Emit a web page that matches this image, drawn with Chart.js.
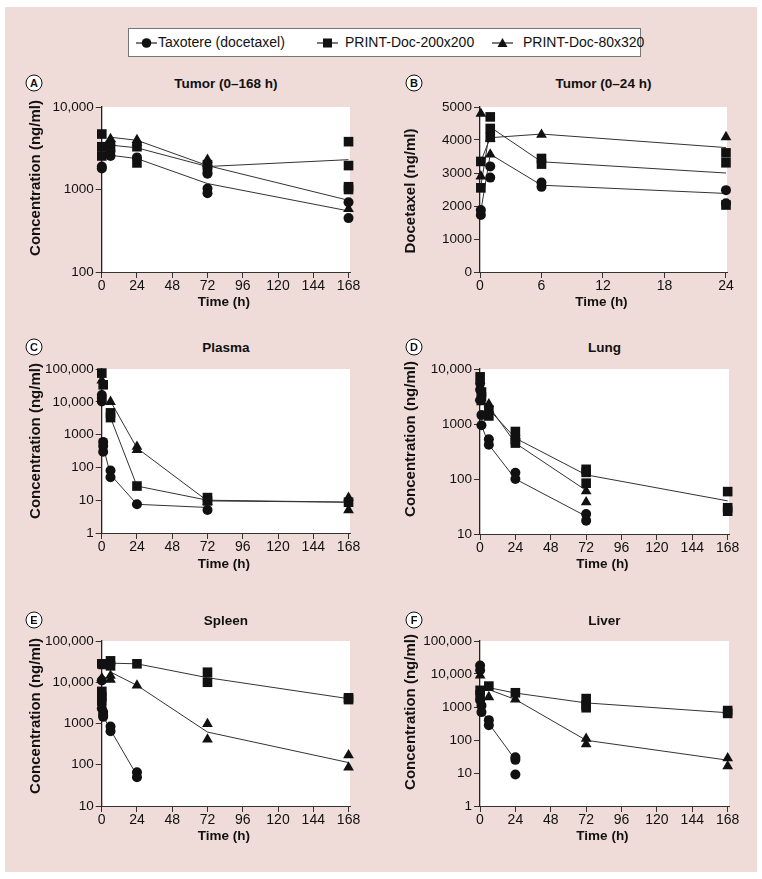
<!DOCTYPE html>
<html>
<head>
<meta charset="utf-8">
<script src="https://cdn.jsdelivr.net/npm/chart.js@4.4.1/dist/chart.umd.min.js"></script>
<style>
  body { margin: 0; background: #fff; width: 762px; height: 879px; position: relative; overflow: hidden;
         font-family: "Liberation Sans", Arial, sans-serif; color: #111; }
  #bg { position: absolute; left: 5px; top: 7px; width: 752px; height: 865px; background: #efdcd9; }
  canvas { position: absolute; }
  .t { position: absolute; font-weight: bold; font-size: 13.5px; white-space: nowrap; transform: translate(-50%, -50%); }
  .yt { font-size: 15px; transform: translate(-50%, -50%) rotate(-90deg); }
  .lab { position: absolute; width: 15px; height: 15px; border: 1.5px solid #111; border-radius: 50%; background: #fff;
         font-size: 11px; font-weight: bold; text-align: center; line-height: 15px; transform: translate(-50%, -50%); }
  #legend { position: absolute; left: 128px; top: 28px; width: 511px; height: 27px; background: #fff; border: 1.5px solid #777; }
  #legend svg, #legend span { position: absolute; }
  #legend span { font-size: 14px; top: 5px; white-space: nowrap; }
  #legend svg { top: 7px; }
</style>
</head>
<body>
<div id="bg"></div>
<div id="legend">
  <svg style="left:7px" width="21" height="14"><line x1="0" y1="7" x2="21" y2="7" stroke="#222" stroke-width="1.2"/><circle cx="10.5" cy="7" r="4.8" fill="#111"/></svg>
  <span style="left:29px">Taxotere (docetaxel)</span>
  <svg style="left:188px" width="21" height="14"><line x1="0" y1="7" x2="21" y2="7" stroke="#222" stroke-width="1.2"/><rect x="6" y="2.5" width="9" height="9" fill="#111"/></svg>
  <span style="left:216px">PRINT-Doc-200x200</span>
  <svg style="left:363px" width="21" height="14"><line x1="0" y1="7" x2="21" y2="7" stroke="#222" stroke-width="1.2"/><polygon points="10.5,2 15.5,11 5.5,11" fill="#111"/></svg>
  <span style="left:394px">PRINT-Doc-80x320</span>
</div>
<div id="charts"></div>
<script>
// tick values
const timeTicksLong = [0, 24, 48, 72, 96, 120, 144, 168];
const timeTicksShort = [0, 6, 12, 18, 24];
const ticksA = [100, 1000, 10000];
const ticksB = [0, 1000, 2000, 3000, 4000, 5000];
const ticksC = [1, 10, 100, 1000, 10000, 100000];
const ticksD = [10, 100, 1000, 10000];
const ticksE = [10, 100, 1000, 10000, 100000];
const ticksF = [1, 10, 100, 1000, 10000, 100000];

// A: tumor 0-168 h  ([time h, ng/ml])
const aTax = [[0.083,1900],[0.083,1800],[6,2900],[6,2550],[24,2450],[72,1550],[72,1030],[72,900],[168,700],[168,450]];
const aSq = [[0.083,4700],[0.083,3300],[0.083,2550],[6,3400],[24,3300],[24,2100],[72,2000],[72,1750],[168,3800],[168,1950],[168,1080],[168,1000]];
const aTri = [[6,4100],[6,3700],[24,4000],[24,3700],[72,2300],[72,2050],[168,580]];
const aTaxMean = [[6,2600],[24,2370],[72,1180],[168,550]];
const aSqMean = [[6,3450],[24,3200],[72,1900],[168,2300]];
const aTriMean = [[6,4300],[24,3950],[72,1950],[168,740]];

// B: tumor 0-24 h
const bTax = [[0.083,1880],[0.083,1730],[1,3200],[1,2860],[6,2710],[6,2580],[24,2480],[24,2080]];
const bSq = [[0.083,3350],[0.083,2550],[1,4700],[1,4350],[1,4080],[6,3440],[6,3270],[24,3610],[24,3310],[24,2030]];
const bTri = [[0.083,4800],[0.083,2900],[1,4050],[1,3560],[6,4160],[24,4090]];
const bTaxMean = [[0.083,1850],[1,3570],[6,2630],[24,2380]];
const bSqMean = [[0.083,2600],[1,4390],[6,3340],[24,3000]];
const bTriMean = [[0.083,3350],[1,4070],[6,4180],[24,3770]];

// C: plasma
const cTax = [[0.083,16000],[0.083,13000],[0.083,10200],[1,600],[1,450],[1,300],[6,80],[6,50],[24,7.5],[72,5]];
const cSq = [[0.083,75000],[1,33000],[6,4600],[6,3300],[24,27],[72,12],[72,9.5],[168,8.7]];
const cTri = [[0.083,45000],[6,10000],[24,430],[24,340],[72,9],[168,12],[168,5]];
const cTaxMean = [[1,430],[6,60],[24,7.5],[72,6]];
const cSqMean = [[6,3300],[24,27],[72,10],[168,8.7]];
const cTriMean = [[6,10400],[24,390],[72,9.5],[168,8.7]];

// D: lung
const dTax = [[0.083,5500],[0.083,4200],[0.083,2700],[1,1450],[1,950],[6,530],[6,420],[24,130],[24,100],[72,23],[72,17.5]];
const dSq = [[0.083,7200],[1,3800],[1,3100],[6,1800],[6,1400],[24,730],[24,520],[24,450],[72,150],[72,132],[72,84],[168,59],[168,30],[168,26]];
const dTri = [[0.083,3000],[1,2500],[6,2300],[24,600],[72,60],[72,38]];
const dTaxMean = [[1,950],[6,420],[24,100],[72,21]];
const dSqMean = [[1,3300],[6,1850],[24,553],[72,119],[168,40]];
const dTriMean = [[1,2500],[6,2100],[24,448],[72,62]];

// E: spleen
const eTax = [[0.083,11000],[0.083,2300],[1,1900],[1,1600],[1,1450],[6,850],[6,650],[24,66],[24,50]];
const eSq = [[0.083,28000],[0.083,6000],[0.083,4500],[0.083,3500],[1,27000],[6,33000],[6,25000],[24,28000],[72,17500],[72,10000],[168,4200],[168,3800]];
const eTri = [[0.083,12500],[6,14500],[6,11500],[24,8400],[72,980],[72,410],[168,170],[168,86]];
const eTaxMean = [[1,1500],[6,700],[24,55]];
const eSqMean = [[1,28000],[6,29000],[24,28000],[72,12900],[168,4000]];
const eTriMean = [[6,17700],[24,8400],[72,620],[168,113]];

// F: liver
const fTax = [[0.083,18000],[0.083,13000],[0.083,1600],[1,1100],[1,700],[6,400],[6,280],[24,30],[24,25],[24,9]];
const fSq = [[0.083,3200],[0.083,2300],[6,4300],[24,2700],[72,1800],[72,1150],[72,950],[168,780],[168,640]];
const fTri = [[0.083,9000],[6,2000],[24,1700],[72,110],[72,75],[168,28],[168,16]];
const fTaxMean = [[1,900],[6,315],[24,25]];
const fSqMean = [[1,3300],[6,3850],[24,2650],[72,1330],[168,670]];
const fTriMean = [[1,3000],[6,3370],[24,1690],[72,98],[168,24.5]];

const INK = '#111';
const xy = arr => arr.map(p => ({ x: p[0], y: p[1] }));
const fmt = v => v >= 10000 ? Number(v).toLocaleString('en-US') : String(v);

// white plot area
const whiteArea = {
  id: 'whiteArea',
  beforeDraw(chart) {
    const { ctx, chartArea: a } = chart;
    ctx.save();
    ctx.fillStyle = '#fff';
    ctx.fillRect(a.left, a.top, a.right - a.left, a.bottom - a.top);
    ctx.restore();
  }
};

function addText(cls, text, x, y) {
  const d = document.createElement('div');
  d.className = cls;
  d.textContent = text;
  d.style.left = x + 'px';
  d.style.top = y + 'px';
  document.body.appendChild(d);
}

function panel(p) {
  const left = p.col === 0 ? 5 : 385, w = 370;
  const top = p.area.t - 14, bottom = p.area.b + 24, h = bottom - top;
  const cv = document.createElement('canvas');
  cv.width = w; cv.height = h;
  cv.style.left = left + 'px'; cv.style.top = top + 'px';
  document.getElementById('charts').appendChild(cv);

  const pointSet = (data, style, r) => ({
    data: xy(data), showLine: false, pointStyle: style, pointRadius: r, pointHoverRadius: r,
    backgroundColor: INK, borderColor: INK, borderWidth: 0, clip: false
  });
  const lineSet = data => ({
    data: xy(data), showLine: true, pointRadius: 0, borderColor: '#333', borderWidth: 1, clip: false
  });

  new Chart(cv, {
    type: 'scatter',
    data: {
      datasets: [
        pointSet(p.tax, 'circle', 5),
        pointSet(p.sq, 'rect', 6.8),
        pointSet(p.tri, 'triangle', 6.2),
        lineSet(p.taxMean), lineSet(p.sqMean), lineSet(p.triMean)
      ]
    },
    options: {
      responsive: false, animation: false, events: [],
      layout: { padding: { top: p.area.t - top, right: left + w - p.area.r, left: 0, bottom: 0 } },
      plugins: { legend: { display: false }, tooltip: { enabled: false } },
      scales: {
        x: {
          type: 'linear', min: 0, max: p.xMax,
          afterFit(s) { s.height = bottom - p.area.b; },
          afterBuildTicks(s) { s.ticks = p.xTicks.map(v => ({ value: v })); },
          grid: { drawOnChartArea: false, tickLength: 6, color: '#333' },
          border: { display: true, color: '#333', width: 1 },
          ticks: { color: INK, padding: 0, font: { family: 'Liberation Sans', size: 14 }, maxRotation: 0, autoSkip: false }
        },
        y: {
          type: p.log ? 'logarithmic' : 'linear', min: p.yTicks[0], max: p.yTicks[p.yTicks.length - 1],
          afterFit(s) { s.width = p.area.l - left; },
          afterBuildTicks(s) { s.ticks = p.yTicks.map(v => ({ value: v })); },
          grid: { drawOnChartArea: false, tickLength: 6, color: '#333' },
          border: { display: true, color: '#222', width: 1.3 },
          ticks: { color: INK, padding: 2, font: { family: 'Liberation Sans', size: 13.5 }, autoSkip: false, callback: v => fmt(v) }
        }
      }
    },
    plugins: [whiteArea]
  });

  const cx = (p.area.l + p.area.r) / 2;
  addText('t', p.title, cx, p.titleY);
  addText('lab', p.letter, p.col === 0 ? 34 : 414, p.titleY);
  addText('t yt', p.yTitle, p.col === 0 ? 34 : 409, p.yTitleY);
  addText('t', 'Time (h)', cx - 2, p.area.b + 29);
}

const conc = 'Concentration (ng/ml)';
panel({ col: 0, letter: 'A', title: 'Tumor (0\u2013168 h)', yTitle: conc, titleY: 82.5, yTitleY: 178,
  area: { l: 101.7, t: 106.7, r: 350, b: 272 }, xMax: 169, xTicks: timeTicksLong, yTicks: ticksA, log: true,
  tax: aTax, sq: aSq, tri: aTri, taxMean: aTaxMean, sqMean: aSqMean, triMean: aTriMean });
panel({ col: 1, letter: 'B', title: 'Tumor (0\u201324 h)', yTitle: 'Docetaxel (ng/ml)', titleY: 82.5, yTitleY: 191,
  area: { l: 480, t: 106.7, r: 727, b: 272 }, xMax: 24.1, xTicks: timeTicksShort, yTicks: ticksB, log: false,
  tax: bTax, sq: bSq, tri: bTri, taxMean: bTaxMean, sqMean: bSqMean, triMean: bTriMean });
panel({ col: 0, letter: 'C', title: 'Plasma', yTitle: conc, titleY: 346.5, yTitleY: 441,
  area: { l: 101.7, t: 369.3, r: 350, b: 534.3 }, xMax: 169, xTicks: timeTicksLong, yTicks: ticksC, log: true,
  tax: cTax, sq: cSq, tri: cTri, taxMean: cTaxMean, sqMean: cSqMean, triMean: cTriMean });
panel({ col: 1, letter: 'D', title: 'Lung', yTitle: conc, titleY: 346.5, yTitleY: 439,
  area: { l: 480, t: 369, r: 729, b: 534.3 }, xMax: 168.9, xTicks: timeTicksLong, yTicks: ticksD, log: true,
  tax: dTax, sq: dSq, tri: dTri, taxMean: dTaxMean, sqMean: dSqMean, triMean: dTriMean });
panel({ col: 0, letter: 'E', title: 'Spleen', yTitle: conc, titleY: 620, yTitleY: 716,
  area: { l: 101.7, t: 640.7, r: 350, b: 805.7 }, xMax: 169, xTicks: timeTicksLong, yTicks: ticksE, log: true,
  tax: eTax, sq: eSq, tri: eTri, taxMean: eTaxMean, sqMean: eSqMean, triMean: eTriMean });
panel({ col: 1, letter: 'F', title: 'Liver', yTitle: conc, titleY: 620, yTitleY: 712,
  area: { l: 480, t: 640.7, r: 729, b: 805.7 }, xMax: 168.9, xTicks: timeTicksLong, yTicks: ticksF, log: true,
  tax: fTax, sq: fSq, tri: fTri, taxMean: fTaxMean, sqMean: fSqMean, triMean: fTriMean });
</script>
</body>
</html>
